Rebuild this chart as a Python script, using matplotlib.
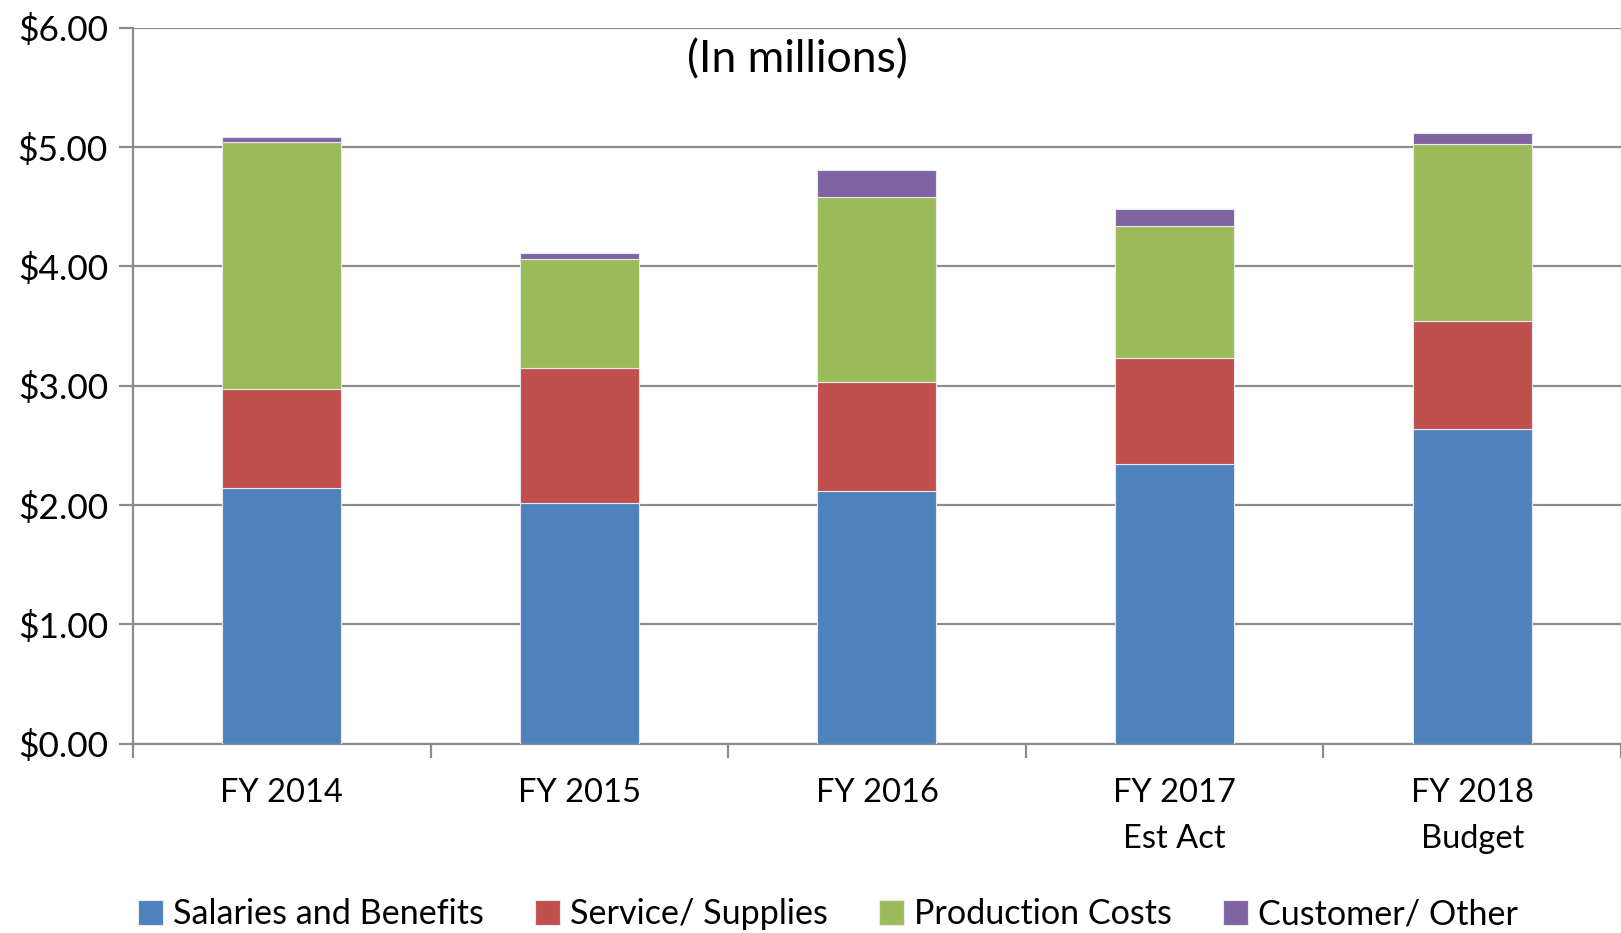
import matplotlib
matplotlib.use("Agg")
import matplotlib.pyplot as plt
import numpy as np

categories = ["FY 2014", "FY 2015", "FY 2016", "FY 2017\nEst Act", "FY 2018\nBudget"]
salaries = [2.14, 2.02, 2.12, 2.34, 2.64]
service = [0.83, 1.13, 0.91, 0.89, 0.90]
production = [2.07, 0.91, 1.55, 1.11, 1.49]
customer = [0.05, 0.05, 0.23, 0.14, 0.09]
series_names = ["Salaries and Benefits", "Service/ Supplies", "Production Costs", "Customer/ Other"]
colors = ["#4F81BD", "#C0504D", "#9BBB59", "#8064A2"]
yticks = [0, 1, 2, 3, 4, 5, 6]

plt.rcParams['font.family'] = ['Lato', 'DejaVu Sans']

fig = plt.figure(figsize=(16.21, 9.33), dpi=100)
ax = fig.add_axes([0.082, 0.2031, 0.918, 0.7669])

x = np.arange(len(categories))
bottom = np.zeros(len(categories))
handles = []
for vals, name, c in zip([salaries, service, production, customer], series_names, colors):
    b = ax.bar(x, vals, width=0.4, bottom=bottom, color=c, edgecolor="#e8e8f0",
               linewidth=0.8, label=name, zorder=3)
    handles.append(b)
    bottom += np.array(vals)

ax.set_xlim(-0.5, 4.5)
ax.set_ylim(0, 6)
ax.set_yticks(yticks)
ax.set_yticklabels([f"${v:.2f}" for v in yticks], fontsize=25.5)
ax.yaxis.grid(True, color="#8c8c8c", linewidth=1.6, zorder=0)
ax.set_axisbelow(True)

ax.set_xticks(x)
ax.set_xticklabels(categories, fontsize=23.5, linespacing=1.65)
ax.set_xticks(np.arange(-0.5, 5.0, 1.0), minor=True)
ax.tick_params(axis="x", which="major", length=0, pad=25)
ax.tick_params(axis="x", which="minor", length=10, width=1.6, color="#8c8c8c")
ax.tick_params(axis="y", length=10, width=1.6, color="#8c8c8c", pad=8)

for s in ["top", "right"]:
    ax.spines[s].set_visible(False)
for s in ["left", "bottom"]:
    ax.spines[s].set_color("#8c8c8c")
    ax.spines[s].set_linewidth(1.6)

fig.text(0.4917, 0.936, "(In millions)", fontsize=32, ha="center", va="center")

fig.legend(handles=handles, labels=series_names, loc="center", ncol=4,
           bbox_to_anchor=(0.511, 0.02), frameon=False, fontsize=24.6,
           handlelength=0.72, handleheight=0.72, handletextpad=0.3,
           columnspacing=1.5)

fig.savefig("out.png", dpi=100)
